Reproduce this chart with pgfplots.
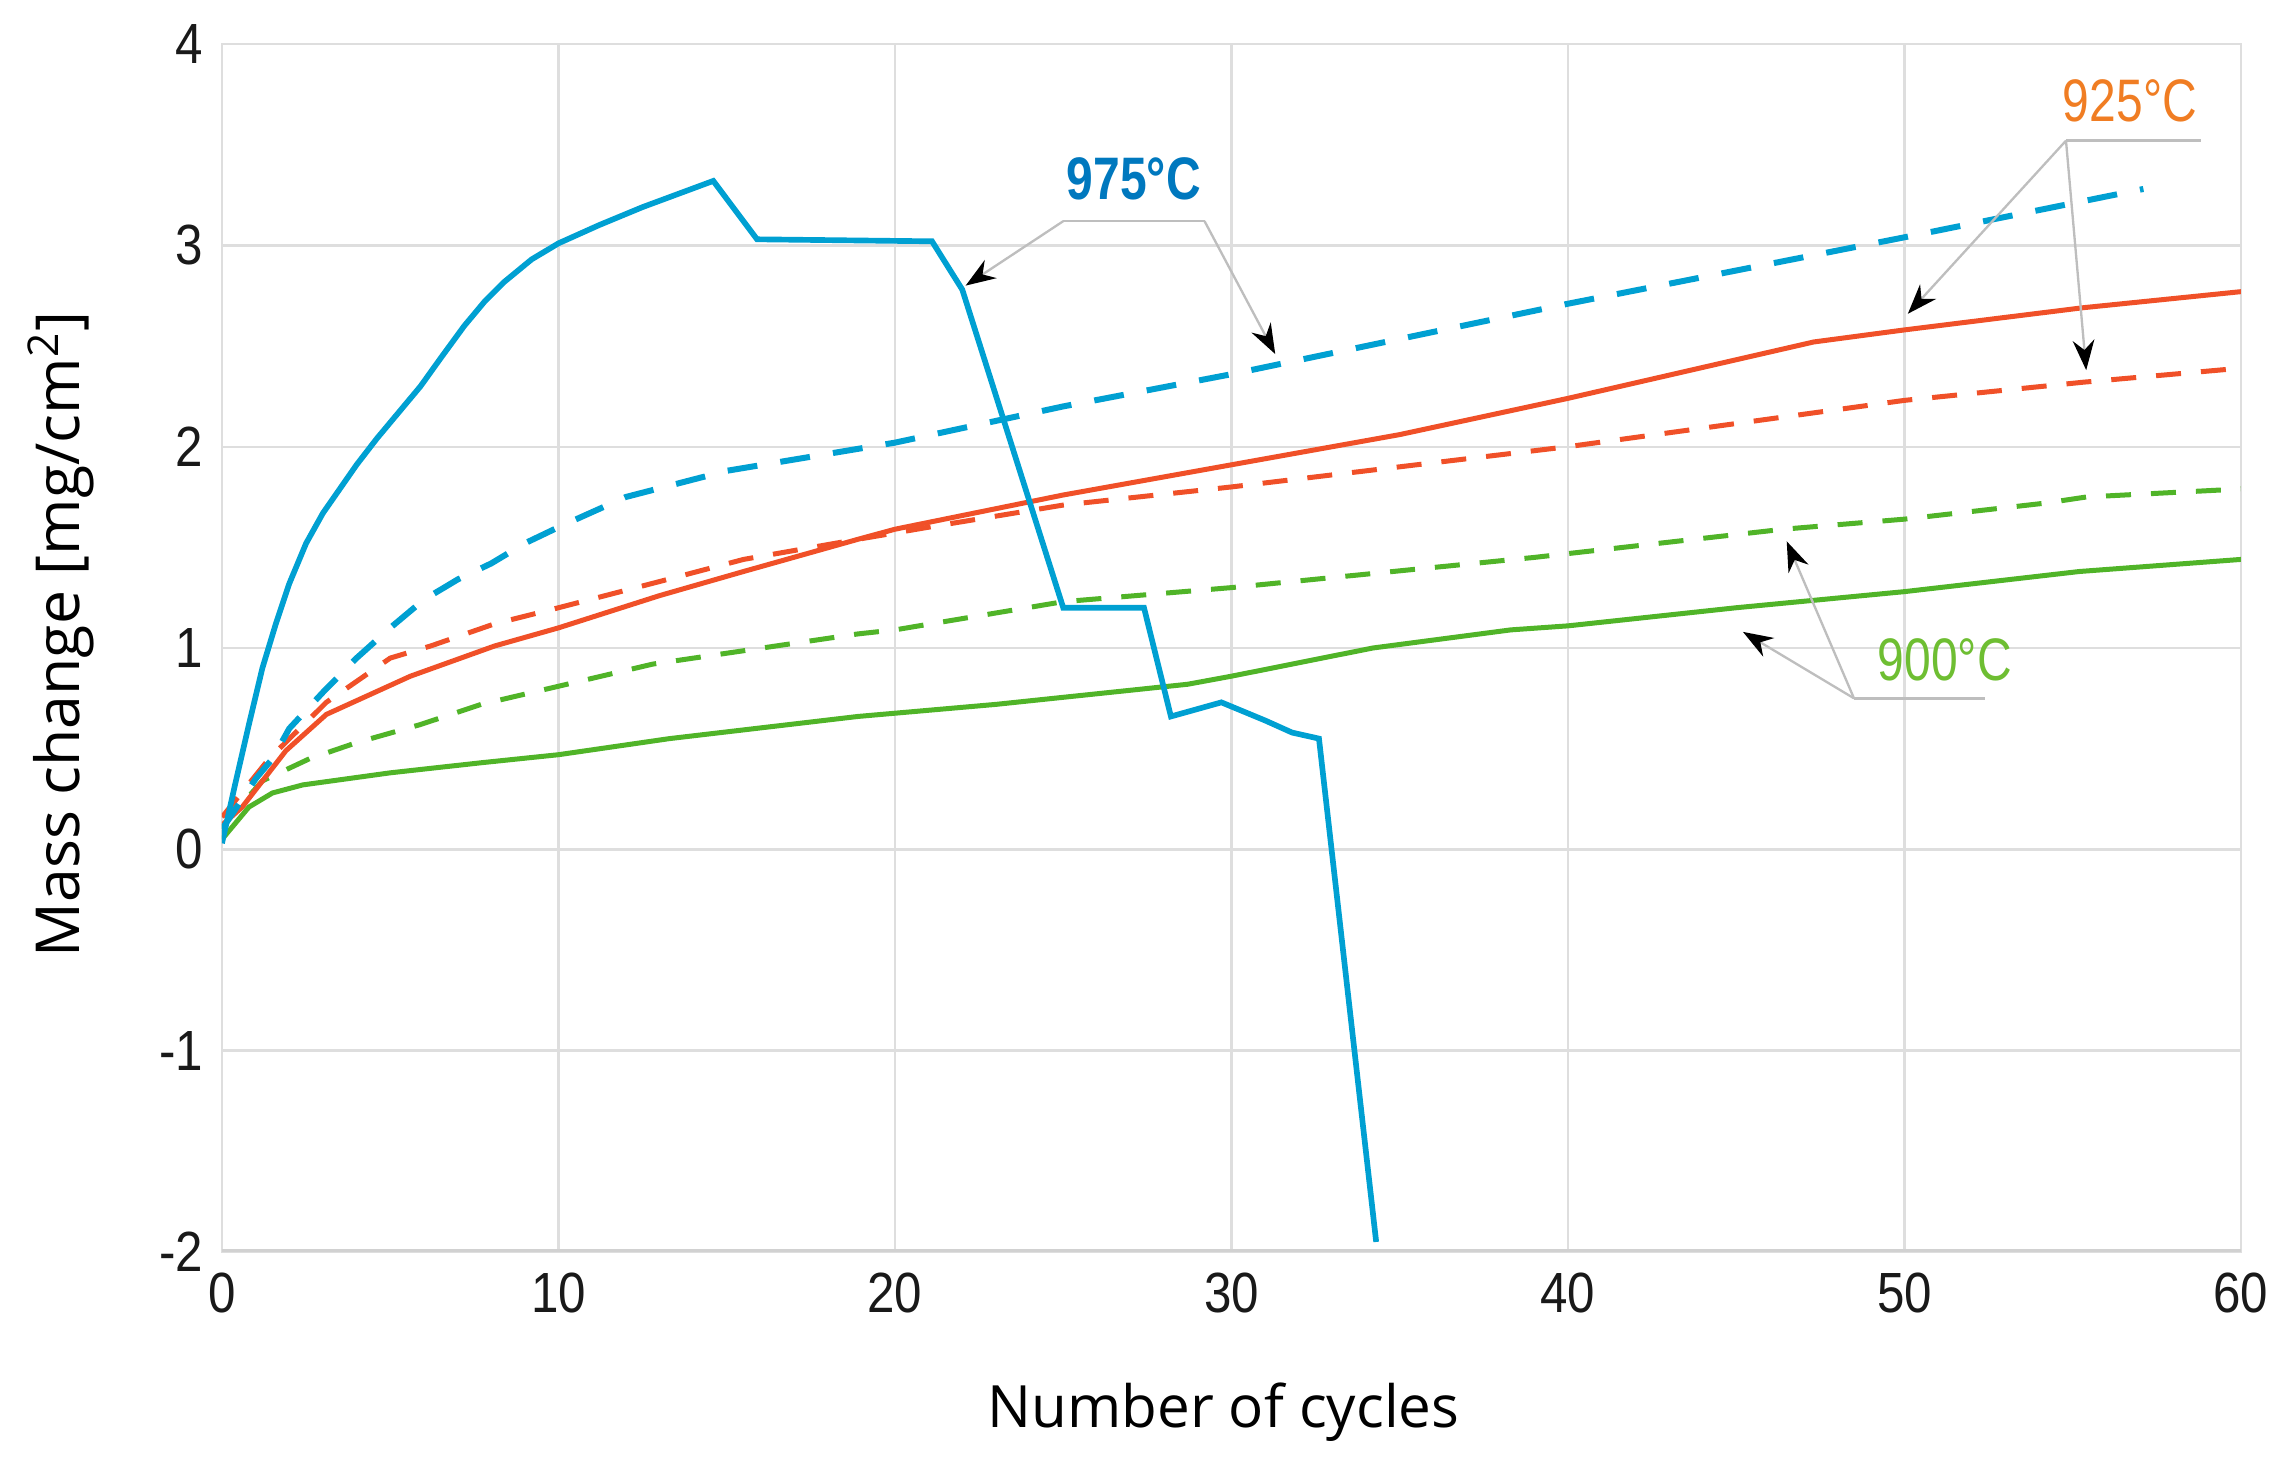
\documentclass[border=0pt]{standalone}
\usepackage{fontspec}
\usepackage{pgfplots}
\pgfplotsset{compat=1.18}
\usetikzlibrary{arrows.meta}
\setmainfont{Open Sans}
\newfontfamily\tickfont[FakeStretch=0.87]{Liberation Sans}
\newfontfamily\notefont[FakeStretch=0.8]{Liberation Sans}
\definecolor{blueline}{RGB}{0,160,210}
\definecolor{redline}{RGB}{240,80,40}
\definecolor{greenline}{RGB}{80,180,40}
\definecolor{bluetext}{RGB}{0,120,190}
\definecolor{orangetext}{RGB}{240,125,35}
\definecolor{greentext}{RGB}{110,190,50}
\definecolor{gridgray}{RGB}{222,222,222}
\definecolor{leader}{RGB}{190,190,190}

% 975 C, solid
\pgfplotstableread{
x y
0 0.03
0.4 0.33
0.8 0.62
1.2 0.90
1.6 1.12
2.0 1.32
2.5 1.52
3.0 1.67
3.5 1.79
4.0 1.91
4.6 2.04
5.2 2.16
5.9 2.30
6.5 2.44
7.2 2.60
7.8 2.72
8.4 2.82
9.2 2.93
10 3.01
11.2 3.10
12.5 3.19
14.6 3.32
15.9 3.03
21.1 3.02
22.0 2.78
25.0 1.20
27.4 1.20
28.2 0.66
29.7 0.73
31.0 0.64
31.8 0.58
32.6 0.55
34.3 -1.95
}\bluesolid
% 975 C, dashed
\pgfplotstableread{
x y
0 0.1
1 0.35
1.5 0.45
2 0.6
3 0.78
4 0.95
5 1.1
6 1.24
7 1.34
8 1.42
9 1.52
10 1.6
12 1.75
15 1.88
20 2.02
25 2.2
30 2.36
40 2.71
50 3.04
57.1 3.28
}\bluedash
% 925 C, solid
\pgfplotstableread{
x y
0 0.12
0.6 0.21
1.9 0.49
3.1 0.67
5.6 0.86
8.1 1.01
10 1.10
13 1.26
15.5 1.38
18.9 1.54
20 1.59
25 1.76
30 1.91
35 2.06
40 2.24
47.3 2.52
50 2.58
55.3 2.69
60 2.77
}\redsolid
% 925 C, dashed
\pgfplotstableread{
x y
0 0.16
1.4 0.45
3.1 0.73
5.0 0.95
6.2 1.01
8.1 1.12
10 1.20
13 1.33
15.5 1.44
18.9 1.54
21 1.60
25 1.71
30 1.80
40 2.0
50 2.23
55.3 2.32
60 2.39
}\reddash
% 900 C, solid
\pgfplotstableread{
x y
0 0.05
0.2 0.09
0.8 0.21
1.5 0.28
2.4 0.32
5 0.38
7.7 0.43
10 0.47
13.3 0.55
18.9 0.66
23 0.72
28.7 0.82
30 0.86
34.2 1.0
38.3 1.09
40 1.11
45 1.2
50 1.28
55.2 1.38
60 1.44
}\greensolid
% 900 C, dashed
\pgfplotstableread{
x y
0 0.1
0.2 0.15
1.2 0.34
2.6 0.45
4 0.53
5.9 0.62
7.7 0.72
10 0.81
12.8 0.92
18.9 1.07
20 1.09
25 1.23
30 1.30
39 1.45
46.4 1.59
50 1.64
54.2 1.72
55.4 1.75
60 1.79
}\greendash

\begin{document}
\begin{tikzpicture}
\useasboundingbox (-66.6pt,-68.7pt) rectangle (619.8pt,375.6pt);
\begin{axis}[
  width=605.7pt, height=362.4pt, scale only axis,
  xmin=0, xmax=60, ymin=-2, ymax=4,
  xtick={0,10,...,60}, ytick={-2,-1,...,4},
  grid=major,
  major grid style={draw=gridgray, line width=0.7pt},
  axis line style={draw=gridgray, line width=0.8pt},
  major tick length=0pt,
  /pgf/number format/assume math mode=true,
  tick label style={font=\tickfont\fontsize{17}{17}\selectfont, text=black!90},
  yticklabel style={anchor=east, inner sep=0pt, xshift=-5.4pt},
  xticklabel style={anchor=north, inner sep=0pt, yshift=-6pt},
  xlabel={Number of cycles},
  ylabel={Mass change [mg/cm\textsuperscript{2}]},
  xlabel style={font=\fontsize{17.5}{17.5}\selectfont, at={(axis description cs:0.496,-0.1325)}, anchor=center},
  ylabel style={font=\fontsize{18.2}{18.2}\selectfont, at={(axis description cs:-0.0797,0.511)}, anchor=center},
]
\draw[line width=2pt, black!18] (rel axis cs:0,0) -- (rel axis cs:1,0);
\addplot[greenline, line width=1.5pt, dash pattern=on 7.5pt off 6pt] table {\greendash};
\addplot[greenline, line width=1.5pt] table {\greensolid};
\addplot[redline, line width=1.5pt, dash pattern=on 7.5pt off 6pt] table {\reddash};
\addplot[redline, line width=1.5pt] table {\redsolid};
\addplot[blueline, line width=1.8pt, dash pattern=on 9pt off 7pt] table {\bluedash};
\addplot[blueline, line width=1.7pt] table {\bluesolid};

% leader lines
\begin{scope}[leader, line width=0.7pt, -{Stealth[black, length=9pt, width=6.5pt]}]
\draw[-] (axis cs:25.0,3.12) -- (axis cs:29.2,3.12);
\draw (axis cs:25.0,3.12) -- (axis cs:22.1,2.80);
\draw (axis cs:29.2,3.12) -- (axis cs:31.3,2.46);
\draw[-] (axis cs:54.8,3.52) -- (axis cs:58.8,3.52);
\draw (axis cs:54.8,3.52) -- (axis cs:50.1,2.66);
\draw (axis cs:54.8,3.52) -- (axis cs:55.4,2.38);
\draw[-] (axis cs:48.5,0.75) -- (axis cs:52.4,0.75);
\draw (axis cs:48.5,0.75) -- (axis cs:45.2,1.08);
\draw (axis cs:48.5,0.75) -- (axis cs:46.5,1.53);
\end{scope}
\node[text=bluetext, font=\notefont\bfseries\fontsize{18}{18}\selectfont] at (axis cs:27.1,3.33) {975°C};
\node[text=orangetext, font=\notefont\fontsize{18}{18}\selectfont] at (axis cs:56.7,3.72) {925°C};
\node[text=greentext, font=\notefont\fontsize{18}{18}\selectfont] at (axis cs:51.2,0.94) {900°C};
\end{axis}
\end{tikzpicture}
\end{document}
